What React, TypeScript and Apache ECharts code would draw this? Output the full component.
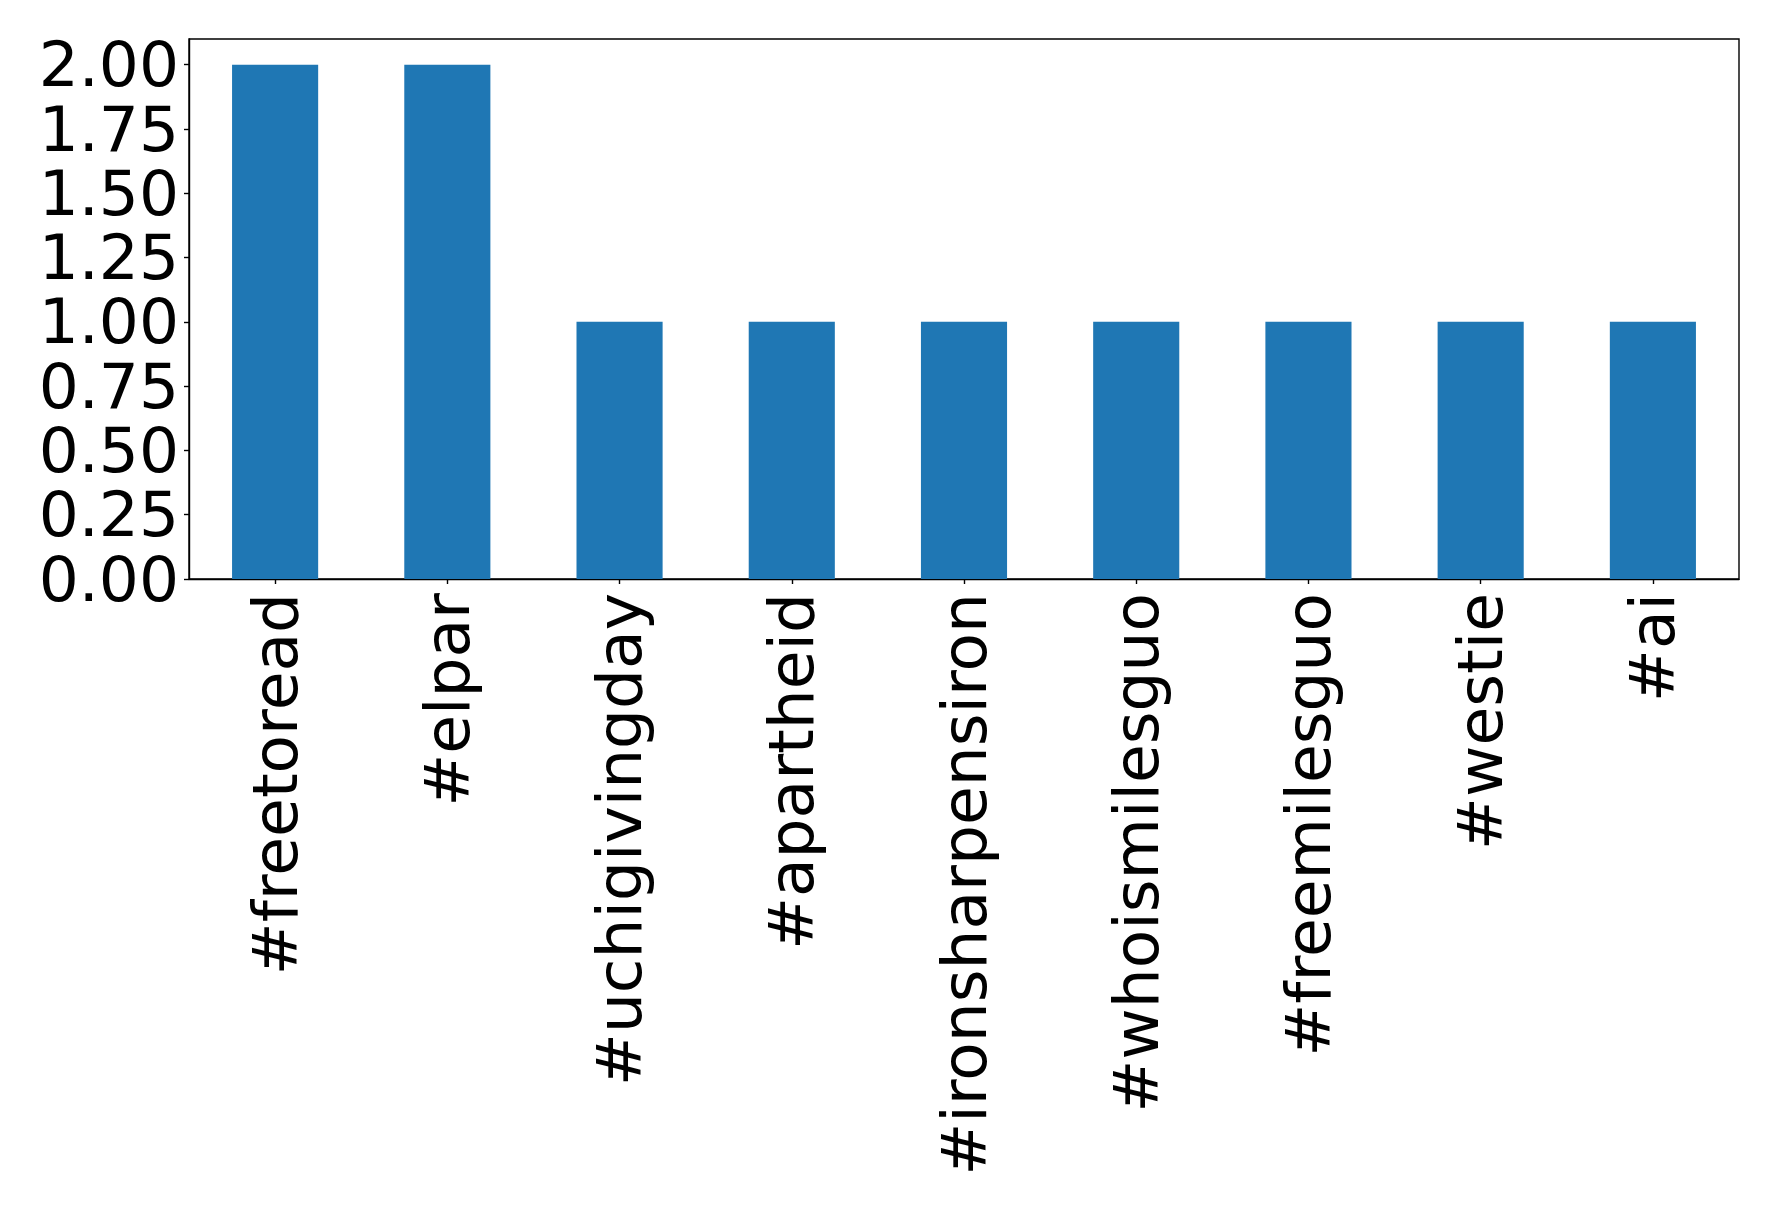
import React, { useEffect, useRef } from "react";
import * as echarts from "echarts";

const categories = ["#freetoread", "#elpar", "#uchigivingday", "#apartheid", "#ironsharpensiron", "#whoismilesguo", "#freemilesguo", "#westie", "#ai"];
const values = [2, 2, 1, 1, 1, 1, 1, 1, 1];
const yTicks = [0, 0.25, 0.5, 0.75, 1, 1.25, 1.5, 1.75, 2];

export default function App() {
  const ref = useRef<HTMLDivElement>(null);
  useEffect(() => {
    const chart = echarts.init(ref.current!, null, { renderer: "svg" });
    chart.setOption({
      animation: false,
      backgroundColor: "#ffffff",
      grid: {
        left: 189,
        top: 39,
        right: 39,
        bottom: 627,
        show: true,
        borderColor: "#000000",
        borderWidth: 1.4,
        containLabel: false,
      },
      xAxis: {
        type: "category",
        data: categories,
        axisLine: { show: true, lineStyle: { color: "#000", width: 1.4 } },
        axisTick: { show: true, alignWithLabel: true, length: 5, lineStyle: { color: "#000", width: 1.4 } },
        axisLabel: {
          interval: 0,
          rotate: 90,
          fontSize: 63,
          lineHeight: 60,
          fontFamily: "DejaVu Sans",
          color: "#000",
          margin: 14,
        },
        splitLine: { show: false },
      },
      yAxis: {
        type: "value",
        min: 0,
        max: 2.1,
        interval: 0.25,
        axisLine: { show: true, lineStyle: { color: "#000", width: 1.4 } },
        axisTick: { show: true, length: 5, lineStyle: { color: "#000", width: 1.4 } },
        axisLabel: {
          fontSize: 63,
          lineHeight: 54,
          fontFamily: "DejaVu Sans",
          color: "#000",
          margin: 10,
          showMaxLabel: false,
          formatter: (v: number) => (yTicks.some((t) => Math.abs(t - v) < 1e-6) ? v.toFixed(2) : ""),
        },
        splitLine: { show: false },
      },
      series: [
        {
          type: "bar",
          data: values,
          barWidth: "50%",
          itemStyle: { color: "#1f77b4" },
        },
      ],
    });
    return () => chart.dispose();
  }, []);
  return <div ref={ref} style={{ position: "absolute", left: 0, top: 0, width: 1778, height: 1206 }} />;
}
